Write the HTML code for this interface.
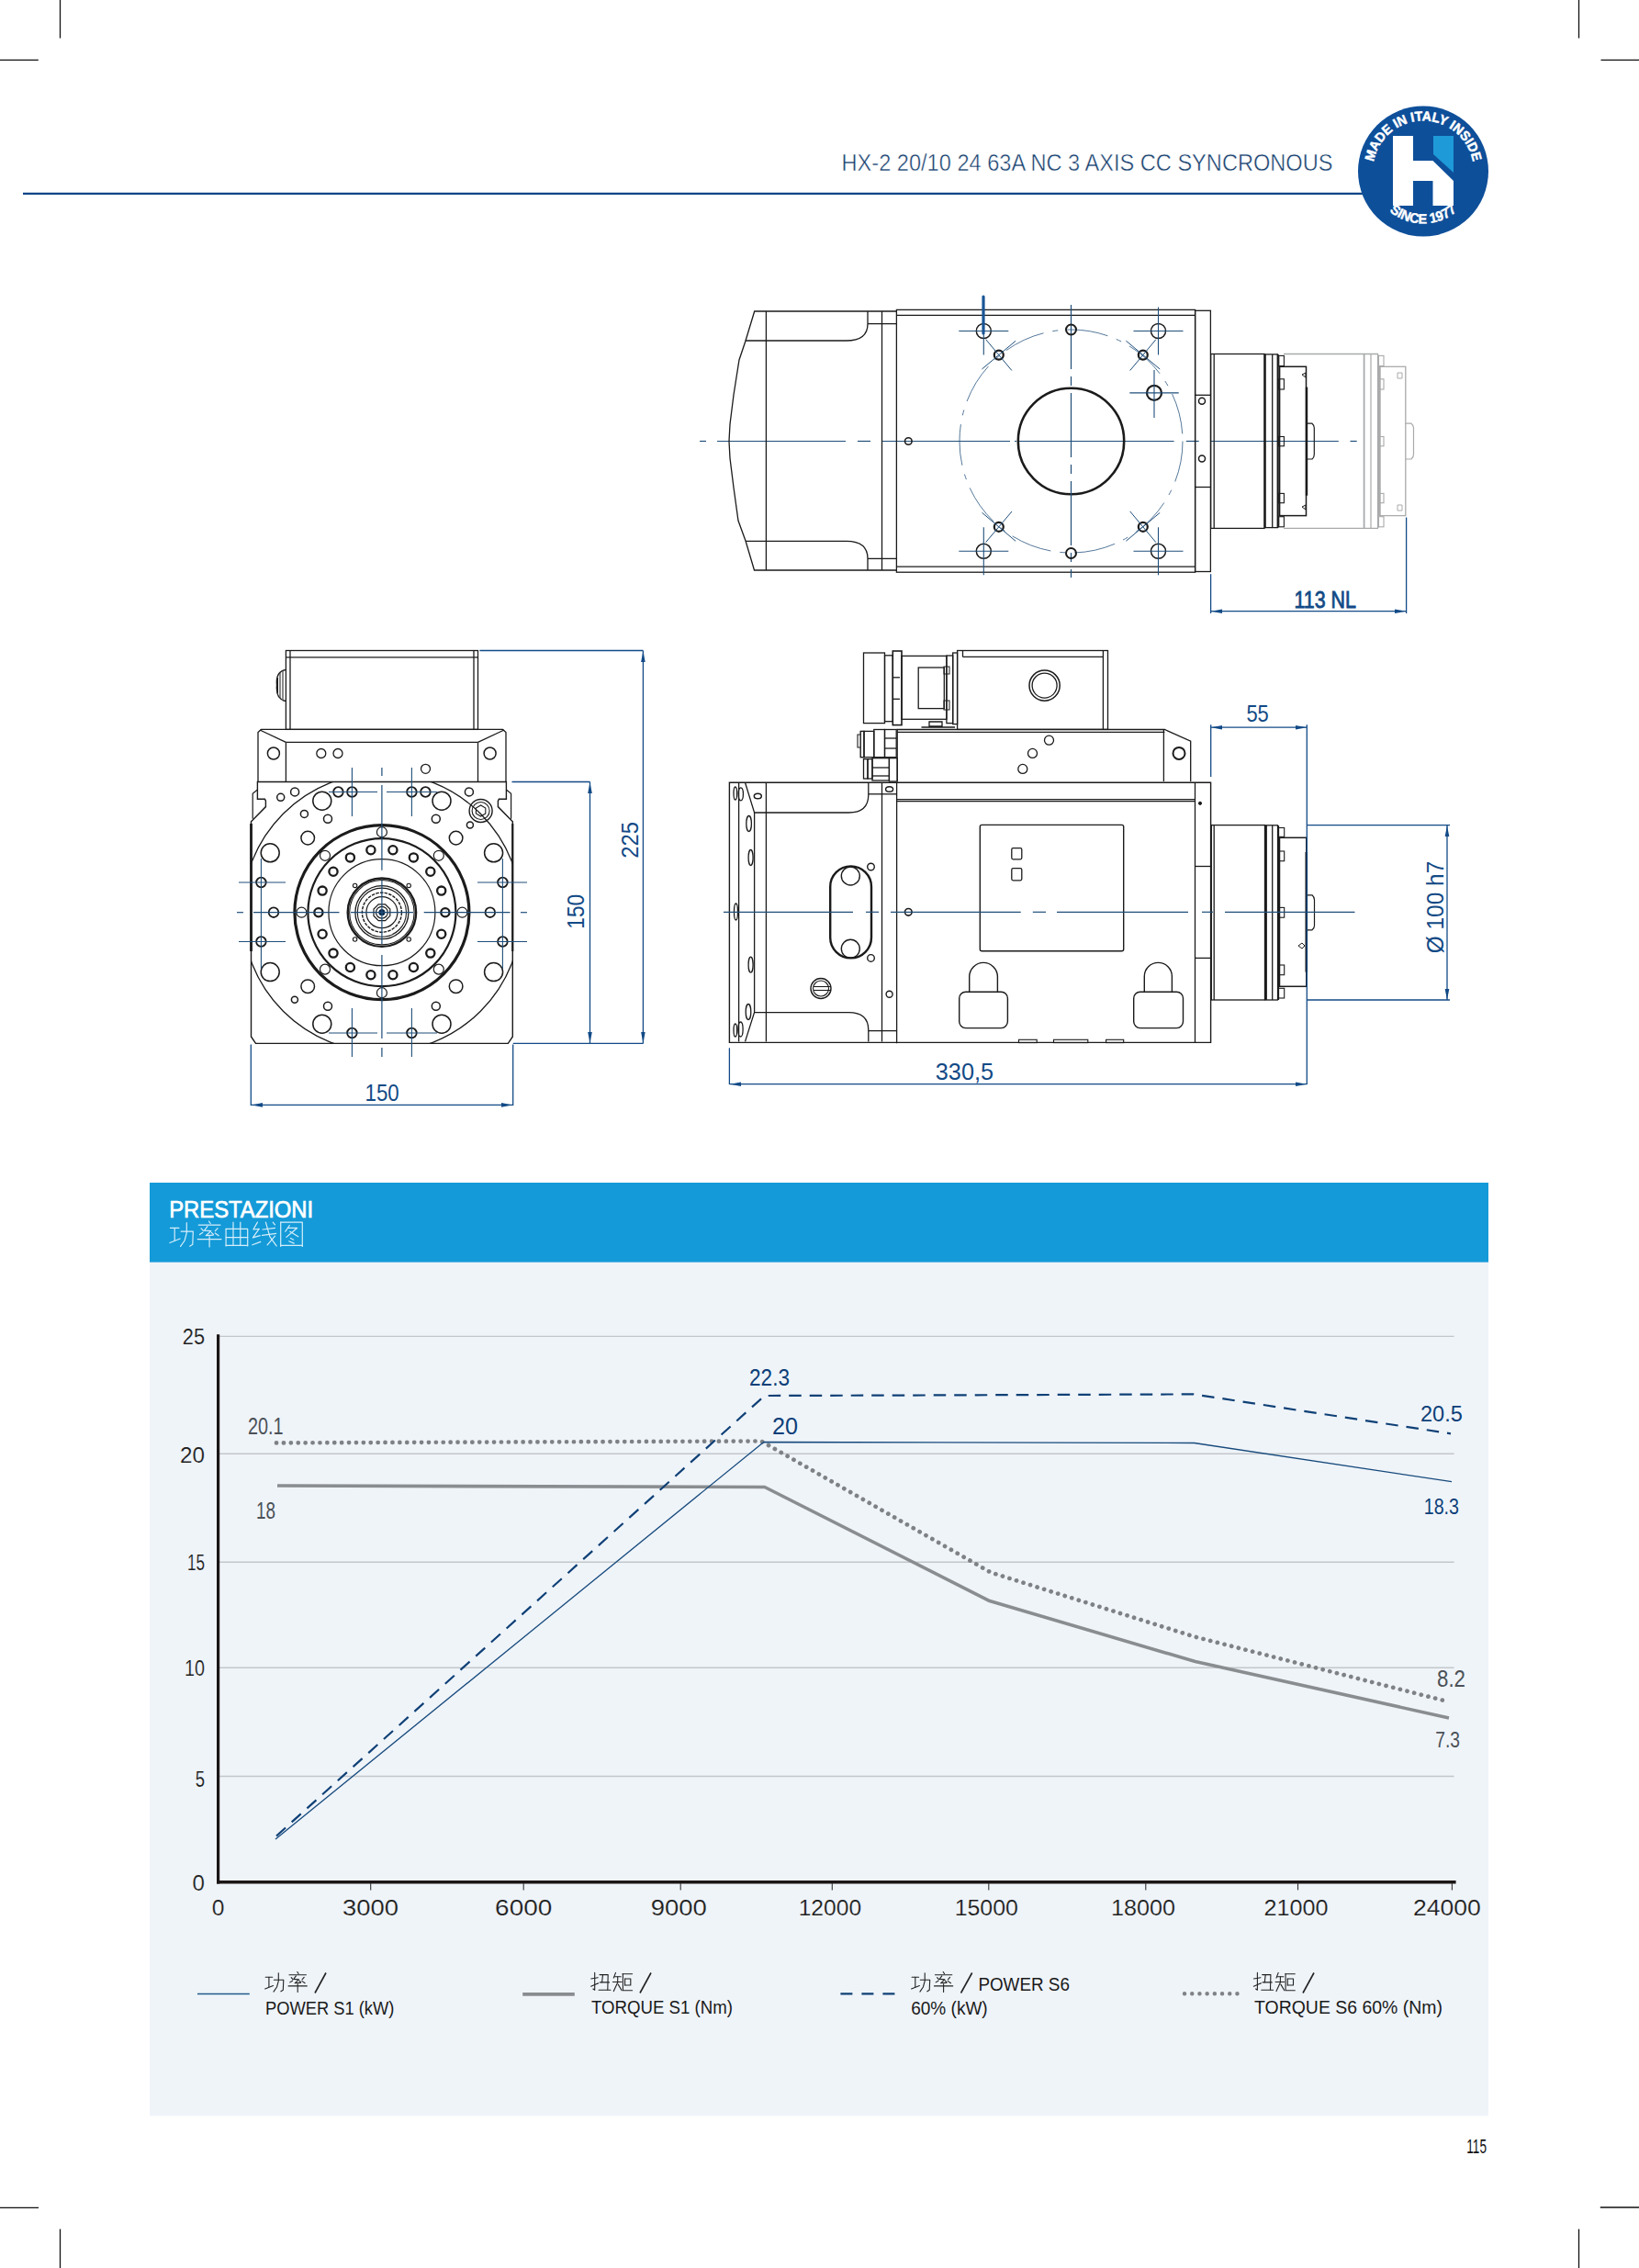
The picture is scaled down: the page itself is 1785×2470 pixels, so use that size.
<!DOCTYPE html><html><head><meta charset="utf-8"><style>html,body{margin:0;padding:0;background:#fff;}body{width:1785px;height:2470px;overflow:hidden;position:relative;}svg{position:absolute;left:0;top:0;}text{font-family:"Liberation Sans",sans-serif;}</style></head><body>
<svg width="1785" height="2470" viewBox="0 0 1785 2470">
<line x1="65.5" y1="0.0" x2="65.5" y2="41.6" stroke="#111" stroke-width="1.3" />
<line x1="0.0" y1="65.4" x2="41.8" y2="65.4" stroke="#111" stroke-width="1.3" />
<line x1="1719.5" y1="0.0" x2="1719.5" y2="41.6" stroke="#111" stroke-width="1.3" />
<line x1="1743.5" y1="65.4" x2="1785.0" y2="65.4" stroke="#111" stroke-width="1.3" />
<line x1="65.5" y1="2427.6" x2="65.5" y2="2470.0" stroke="#111" stroke-width="1.3" />
<line x1="0.0" y1="2404.3" x2="42.0" y2="2404.3" stroke="#111" stroke-width="1.3" />
<line x1="1719.5" y1="2427.6" x2="1719.5" y2="2470.0" stroke="#111" stroke-width="1.3" />
<line x1="1742.8" y1="2404.0" x2="1785.0" y2="2404.0" stroke="#111" stroke-width="1.3" />
<line x1="25.0" y1="210.8" x2="1500.0" y2="210.8" stroke="#0d4585" stroke-width="2.2" />
<text x="916.5" y="185.7" font-size="25" fill="#173f6e" text-anchor="start" font-weight="normal" textLength="535" lengthAdjust="spacingAndGlyphs" stroke="#fff" stroke-width="0.45">HX-2 20/10 24 63A NC 3 AXIS CC SYNCRONOUS</text>
<circle cx="1550" cy="186.5" r="71" fill="#0e4f9a"/>
<path d="M1517,148 H1539 V175 H1560.5 L1583,197 V224 H1560.5 V197 H1539 V224 H1517 Z" fill="#fff"/>
<path d="M1561,148 H1583 V188 L1561,168 Z" fill="#1e9ad8"/>
<defs><path id="arcTop" d="M1495.84,196.05 A55,55 0 1 1 1604.16,196.05"/>
<path id="arcBot" d="M1493,186.5 A57,57 0 0 0 1607,186.5"/></defs>
<text font-size="14.5" font-weight="bold" fill="#fff" stroke="#fff" stroke-width="0.5" text-anchor="middle"><textPath href="#arcTop" startOffset="50%" textLength="152" lengthAdjust="spacingAndGlyphs">MADE IN ITALY INSIDE</textPath></text>
<text font-size="15" font-weight="bold" fill="#fff" stroke="#fff" stroke-width="0.4" text-anchor="middle"><textPath href="#arcBot" startOffset="50%" textLength="80" lengthAdjust="spacingAndGlyphs">SINCE 1977</textPath></text>
<rect x="163" y="1288" width="1458" height="86.8" fill="#149ad8"/>
<rect x="163" y="1374.8" width="1458" height="929.5" fill="#eff4f9"/>
<text x="184.2" y="1325.6" font-size="25" fill="#ffffff" text-anchor="start" font-weight="normal" textLength="157" lengthAdjust="spacingAndGlyphs" stroke="#fff" stroke-width="0.7">PRESTAZIONI</text>
<path d="M185.4,1337.3 L194.9,1337.3" stroke="#d6eefa" stroke-width="1.2" fill="none" stroke-linecap="round" stroke-linejoin="round"/>
<path d="M190.2,1337.3 L190.2,1350.7" stroke="#d6eefa" stroke-width="1.2" fill="none" stroke-linecap="round" stroke-linejoin="round"/>
<path d="M184.9,1353.5 L196.1,1349.0" stroke="#d6eefa" stroke-width="1.2" fill="none" stroke-linecap="round" stroke-linejoin="round"/>
<path d="M197.2,1341.2 L210.3,1341.2 L209.8,1355.2 L206.7,1357.2" stroke="#d6eefa" stroke-width="1.2" fill="none" stroke-linecap="round" stroke-linejoin="round"/>
<path d="M203.3,1331.7 L203.3,1342.6 L201.1,1351.0 L196.6,1357.4" stroke="#d6eefa" stroke-width="1.2" fill="none" stroke-linecap="round" stroke-linejoin="round"/>
<path d="M227.5,1330.0 L229.2,1332.5" stroke="#d6eefa" stroke-width="1.2" fill="none" stroke-linecap="round" stroke-linejoin="round"/>
<path d="M216.3,1334.2 L239.9,1334.2" stroke="#d6eefa" stroke-width="1.2" fill="none" stroke-linecap="round" stroke-linejoin="round"/>
<path d="M225.9,1335.6 L222.5,1340.1 L229.8,1340.6 L224.2,1345.7 L232.0,1345.1" stroke="#d6eefa" stroke-width="1.2" fill="none" stroke-linecap="round" stroke-linejoin="round"/>
<path d="M230.3,1342.3 L232.6,1344.6" stroke="#d6eefa" stroke-width="1.2" fill="none" stroke-linecap="round" stroke-linejoin="round"/>
<path d="M219.1,1337.8 L221.7,1340.6" stroke="#d6eefa" stroke-width="1.2" fill="none" stroke-linecap="round" stroke-linejoin="round"/>
<path d="M217.5,1344.6 L220.8,1342.3" stroke="#d6eefa" stroke-width="1.2" fill="none" stroke-linecap="round" stroke-linejoin="round"/>
<path d="M237.1,1337.6 L234.3,1340.6" stroke="#d6eefa" stroke-width="1.2" fill="none" stroke-linecap="round" stroke-linejoin="round"/>
<path d="M234.3,1342.9 L238.2,1345.7" stroke="#d6eefa" stroke-width="1.2" fill="none" stroke-linecap="round" stroke-linejoin="round"/>
<path d="M215.2,1349.6 L241.0,1349.6" stroke="#d6eefa" stroke-width="1.2" fill="none" stroke-linecap="round" stroke-linejoin="round"/>
<path d="M228.1,1346.8 L228.1,1358.0" stroke="#d6eefa" stroke-width="1.2" fill="none" stroke-linecap="round" stroke-linejoin="round"/>
<path d="M246.1,1338.4 L246.1,1356.9" stroke="#d6eefa" stroke-width="1.2" fill="none" stroke-linecap="round" stroke-linejoin="round"/>
<path d="M246.1,1338.4 L269.7,1338.4 L269.7,1356.9" stroke="#d6eefa" stroke-width="1.2" fill="none" stroke-linecap="round" stroke-linejoin="round"/>
<path d="M246.1,1347.6 L269.7,1347.6" stroke="#d6eefa" stroke-width="1.2" fill="none" stroke-linecap="round" stroke-linejoin="round"/>
<path d="M246.1,1356.3 L269.7,1356.3" stroke="#d6eefa" stroke-width="1.2" fill="none" stroke-linecap="round" stroke-linejoin="round"/>
<path d="M254.0,1331.1 L254.0,1356.3" stroke="#d6eefa" stroke-width="1.2" fill="none" stroke-linecap="round" stroke-linejoin="round"/>
<path d="M261.8,1331.1 L261.8,1356.3" stroke="#d6eefa" stroke-width="1.2" fill="none" stroke-linecap="round" stroke-linejoin="round"/>
<path d="M280.4,1331.1 L275.9,1339.0 L282.1,1338.4" stroke="#d6eefa" stroke-width="1.2" fill="none" stroke-linecap="round" stroke-linejoin="round"/>
<path d="M282.1,1338.4 L275.4,1347.9 L283.2,1345.7" stroke="#d6eefa" stroke-width="1.2" fill="none" stroke-linecap="round" stroke-linejoin="round"/>
<path d="M274.8,1355.8 L283.8,1352.4" stroke="#d6eefa" stroke-width="1.2" fill="none" stroke-linecap="round" stroke-linejoin="round"/>
<path d="M286.0,1339.0 L299.5,1337.3" stroke="#d6eefa" stroke-width="1.2" fill="none" stroke-linecap="round" stroke-linejoin="round"/>
<path d="M285.5,1345.4 L300.6,1343.4" stroke="#d6eefa" stroke-width="1.2" fill="none" stroke-linecap="round" stroke-linejoin="round"/>
<path d="M289.4,1331.1 L293.9,1346.8 L301.1,1356.9" stroke="#d6eefa" stroke-width="1.2" fill="none" stroke-linecap="round" stroke-linejoin="round"/>
<path d="M297.2,1331.1 L299.5,1333.9" stroke="#d6eefa" stroke-width="1.2" fill="none" stroke-linecap="round" stroke-linejoin="round"/>
<path d="M299.5,1346.2 L291.1,1355.8" stroke="#d6eefa" stroke-width="1.2" fill="none" stroke-linecap="round" stroke-linejoin="round"/>
<path d="M305.7,1331.1 L305.7,1357.4" stroke="#d6eefa" stroke-width="1.2" fill="none" stroke-linecap="round" stroke-linejoin="round"/>
<path d="M305.7,1331.1 L329.3,1331.1 L329.3,1357.4" stroke="#d6eefa" stroke-width="1.2" fill="none" stroke-linecap="round" stroke-linejoin="round"/>
<path d="M305.7,1356.3 L329.3,1356.3" stroke="#d6eefa" stroke-width="1.2" fill="none" stroke-linecap="round" stroke-linejoin="round"/>
<path d="M315.3,1334.5 L310.8,1341.2" stroke="#d6eefa" stroke-width="1.2" fill="none" stroke-linecap="round" stroke-linejoin="round"/>
<path d="M313.6,1337.3 L323.7,1337.3 L311.9,1347.4" stroke="#d6eefa" stroke-width="1.2" fill="none" stroke-linecap="round" stroke-linejoin="round"/>
<path d="M315.8,1341.2 L324.8,1346.8" stroke="#d6eefa" stroke-width="1.2" fill="none" stroke-linecap="round" stroke-linejoin="round"/>
<path d="M316.4,1348.5 L319.7,1350.2" stroke="#d6eefa" stroke-width="1.2" fill="none" stroke-linecap="round" stroke-linejoin="round"/>
<path d="M314.7,1351.8 L320.3,1354.1" stroke="#d6eefa" stroke-width="1.2" fill="none" stroke-linecap="round" stroke-linejoin="round"/>
<line x1="239.0" y1="1455.4" x2="1583.6" y2="1455.4" stroke="#c3c7cb" stroke-width="1.4" />
<line x1="239.0" y1="1583.3" x2="1583.6" y2="1583.3" stroke="#c3c7cb" stroke-width="1.4" />
<line x1="239.0" y1="1701.3" x2="1583.6" y2="1701.3" stroke="#c3c7cb" stroke-width="1.4" />
<line x1="239.0" y1="1816.3" x2="1583.6" y2="1816.3" stroke="#c3c7cb" stroke-width="1.4" />
<line x1="239.0" y1="1934.5" x2="1583.6" y2="1934.5" stroke="#c3c7cb" stroke-width="1.4" />
<line x1="237.6" y1="1453.3" x2="237.6" y2="2051.4" stroke="#1c1616" stroke-width="3.2" />
<line x1="236.0" y1="2049.7" x2="1585.6" y2="2049.7" stroke="#1c1616" stroke-width="3.4" />
<line x1="403.7" y1="2051.0" x2="403.7" y2="2058.4" stroke="#333" stroke-width="1.1" />
<line x1="570.2" y1="2051.0" x2="570.2" y2="2058.4" stroke="#333" stroke-width="1.1" />
<line x1="741.2" y1="2051.0" x2="741.2" y2="2058.4" stroke="#333" stroke-width="1.1" />
<line x1="906.3" y1="2051.0" x2="906.3" y2="2058.4" stroke="#333" stroke-width="1.1" />
<line x1="1076.8" y1="2051.0" x2="1076.8" y2="2058.4" stroke="#333" stroke-width="1.1" />
<line x1="1247.8" y1="2051.0" x2="1247.8" y2="2058.4" stroke="#333" stroke-width="1.1" />
<line x1="1413.5" y1="2051.0" x2="1413.5" y2="2058.4" stroke="#333" stroke-width="1.1" />
<line x1="1581.4" y1="2051.0" x2="1581.4" y2="2058.4" stroke="#333" stroke-width="1.1" />
<text x="223.0" y="1464.3" font-size="23" fill="#1e1e1e" text-anchor="end" font-weight="normal" textLength="24.2" lengthAdjust="spacingAndGlyphs" stroke="#eff4f9" stroke-width="0.15">25</text>
<text x="223.0" y="1592.9" font-size="23" fill="#1e1e1e" text-anchor="end" font-weight="normal" textLength="27" lengthAdjust="spacingAndGlyphs" stroke="#eff4f9" stroke-width="0.15">20</text>
<text x="223.0" y="1709.7" font-size="23" fill="#1e1e1e" text-anchor="end" font-weight="normal" textLength="19" lengthAdjust="spacingAndGlyphs" stroke="#eff4f9" stroke-width="0.15">15</text>
<text x="223.0" y="1825.1" font-size="23" fill="#1e1e1e" text-anchor="end" font-weight="normal" textLength="22" lengthAdjust="spacingAndGlyphs" stroke="#eff4f9" stroke-width="0.15">10</text>
<text x="223.0" y="1946.0" font-size="23" fill="#1e1e1e" text-anchor="end" font-weight="normal" textLength="10.3" lengthAdjust="spacingAndGlyphs" stroke="#eff4f9" stroke-width="0.15">5</text>
<text x="223.0" y="2058.7" font-size="23" fill="#1e1e1e" text-anchor="end" font-weight="normal" textLength="13.4" lengthAdjust="spacingAndGlyphs" stroke="#eff4f9" stroke-width="0.15">0</text>
<text x="237.6" y="2086.3" font-size="23" fill="#1e1e1e" text-anchor="middle" font-weight="normal" textLength="13.7" lengthAdjust="spacingAndGlyphs" stroke="#eff4f9" stroke-width="0.15">0</text>
<text x="403.5" y="2086.3" font-size="23" fill="#1e1e1e" text-anchor="middle" font-weight="normal" textLength="61" lengthAdjust="spacingAndGlyphs" stroke="#eff4f9" stroke-width="0.15">3000</text>
<text x="570.2" y="2086.3" font-size="23" fill="#1e1e1e" text-anchor="middle" font-weight="normal" textLength="62.2" lengthAdjust="spacingAndGlyphs" stroke="#eff4f9" stroke-width="0.15">6000</text>
<text x="739.2" y="2086.3" font-size="23" fill="#1e1e1e" text-anchor="middle" font-weight="normal" textLength="61.1" lengthAdjust="spacingAndGlyphs" stroke="#eff4f9" stroke-width="0.15">9000</text>
<text x="903.9" y="2086.3" font-size="23" fill="#1e1e1e" text-anchor="middle" font-weight="normal" textLength="68.4" lengthAdjust="spacingAndGlyphs" stroke="#eff4f9" stroke-width="0.15">12000</text>
<text x="1074.3" y="2086.3" font-size="23" fill="#1e1e1e" text-anchor="middle" font-weight="normal" textLength="69.2" lengthAdjust="spacingAndGlyphs" stroke="#eff4f9" stroke-width="0.15">15000</text>
<text x="1245.0" y="2086.3" font-size="23" fill="#1e1e1e" text-anchor="middle" font-weight="normal" textLength="70" lengthAdjust="spacingAndGlyphs" stroke="#eff4f9" stroke-width="0.15">18000</text>
<text x="1411.4" y="2086.3" font-size="23" fill="#1e1e1e" text-anchor="middle" font-weight="normal" textLength="70" lengthAdjust="spacingAndGlyphs" stroke="#eff4f9" stroke-width="0.15">21000</text>
<text x="1575.9" y="2086.3" font-size="23" fill="#1e1e1e" text-anchor="middle" font-weight="normal" textLength="73.8" lengthAdjust="spacingAndGlyphs" stroke="#eff4f9" stroke-width="0.15">24000</text>
<path d="M302.0,1618.0 L832.8,1619.5 L1077.8,1743.6 L1301.7,1809.5 L1578.0,1871.0" stroke="#8a8d90" stroke-width="3.6" fill="none" stroke-linejoin="round" />
<path d="M301.0,1571.4 L829.0,1569.5 L1079.0,1712.5 L1301.0,1782.5 L1578.0,1853.4" stroke="#7f8285" stroke-width="4.7" fill="none" stroke-linejoin="round" stroke-dasharray="0.1 7.8" stroke-linecap="round"/>
<path d="M300.0,2003.0 L831.8,1570.5 L1300.6,1571.5 L1581.0,1613.6" stroke="#174a7c" stroke-width="1.3" fill="none" stroke-linejoin="round" />
<path d="M301.0,1999.5 L832.7,1520.0 L1006.0,1519.5 L1300.0,1518.4 L1580.0,1561.3" stroke="#0f4076" stroke-width="2.2" fill="none" stroke-linejoin="round" stroke-dasharray="13.5 9"/>
<text x="816.0" y="1509.0" font-size="25" fill="#0c3f78" text-anchor="start" font-weight="normal" textLength="44" lengthAdjust="spacingAndGlyphs" >22.3</text>
<text x="841.0" y="1561.5" font-size="25" fill="#0c3f78" text-anchor="start" font-weight="normal" textLength="28" lengthAdjust="spacingAndGlyphs" >20</text>
<text x="270.0" y="1561.8" font-size="25" fill="#4b5157" text-anchor="start" font-weight="normal" textLength="38.6" lengthAdjust="spacingAndGlyphs" >20.1</text>
<text x="279.0" y="1654.0" font-size="25" fill="#4b5157" text-anchor="start" font-weight="normal" textLength="21" lengthAdjust="spacingAndGlyphs" >18</text>
<text x="1547.0" y="1547.7" font-size="23" fill="#0c3f78" text-anchor="start" font-weight="normal" textLength="45.8" lengthAdjust="spacingAndGlyphs" >20.5</text>
<text x="1550.7" y="1649.0" font-size="23" fill="#0c3f78" text-anchor="start" font-weight="normal" textLength="38.3" lengthAdjust="spacingAndGlyphs" >18.3</text>
<text x="1565.0" y="1836.7" font-size="25" fill="#4b5157" text-anchor="start" font-weight="normal" textLength="31" lengthAdjust="spacingAndGlyphs" >8.2</text>
<text x="1563.2" y="1902.5" font-size="23" fill="#4b5157" text-anchor="start" font-weight="normal" textLength="26.8" lengthAdjust="spacingAndGlyphs" >7.3</text>
<line x1="215.0" y1="2171.4" x2="271.8" y2="2171.4" stroke="#1f5a8c" stroke-width="1.5" />
<path d="M289.2,2153.2 L296.7,2153.2" stroke="#222" stroke-width="1.1" fill="none" stroke-linecap="round" stroke-linejoin="round"/>
<path d="M292.9,2153.2 L292.9,2163.8" stroke="#222" stroke-width="1.1" fill="none" stroke-linecap="round" stroke-linejoin="round"/>
<path d="M288.7,2166.0 L297.5,2162.5" stroke="#222" stroke-width="1.1" fill="none" stroke-linecap="round" stroke-linejoin="round"/>
<path d="M298.4,2156.3 L308.8,2156.3 L308.3,2167.3 L305.9,2168.8" stroke="#222" stroke-width="1.1" fill="none" stroke-linecap="round" stroke-linejoin="round"/>
<path d="M303.3,2148.8 L303.3,2157.4 L301.5,2164.0 L298.0,2169.1" stroke="#222" stroke-width="1.1" fill="none" stroke-linecap="round" stroke-linejoin="round"/>
<path d="M323.8,2147.5 L325.1,2149.5" stroke="#222" stroke-width="1.1" fill="none" stroke-linecap="round" stroke-linejoin="round"/>
<path d="M315.0,2150.8 L333.4,2150.8" stroke="#222" stroke-width="1.1" fill="none" stroke-linecap="round" stroke-linejoin="round"/>
<path d="M322.4,2151.9 L319.8,2155.4 L325.5,2155.9 L321.1,2159.8 L327.3,2159.4" stroke="#222" stroke-width="1.1" fill="none" stroke-linecap="round" stroke-linejoin="round"/>
<path d="M326.0,2157.2 L327.7,2158.9" stroke="#222" stroke-width="1.1" fill="none" stroke-linecap="round" stroke-linejoin="round"/>
<path d="M317.2,2153.7 L319.1,2155.9" stroke="#222" stroke-width="1.1" fill="none" stroke-linecap="round" stroke-linejoin="round"/>
<path d="M315.8,2158.9 L318.5,2157.2" stroke="#222" stroke-width="1.1" fill="none" stroke-linecap="round" stroke-linejoin="round"/>
<path d="M331.2,2153.4 L329.0,2155.9" stroke="#222" stroke-width="1.1" fill="none" stroke-linecap="round" stroke-linejoin="round"/>
<path d="M329.0,2157.6 L332.1,2159.8" stroke="#222" stroke-width="1.1" fill="none" stroke-linecap="round" stroke-linejoin="round"/>
<path d="M314.1,2162.9 L334.3,2162.9" stroke="#222" stroke-width="1.1" fill="none" stroke-linecap="round" stroke-linejoin="round"/>
<path d="M324.2,2160.7 L324.2,2169.5" stroke="#222" stroke-width="1.1" fill="none" stroke-linecap="round" stroke-linejoin="round"/>
<line x1="355.0" y1="2148.5" x2="343.0" y2="2170.5" stroke="#222" stroke-width="1.6" />
<text x="289.0" y="2193.7" font-size="21" fill="#1a1a1a" text-anchor="start" font-weight="normal" textLength="140.4" lengthAdjust="spacingAndGlyphs" >POWER S1 (kW)</text>
<line x1="569.2" y1="2171.9" x2="625.8" y2="2171.9" stroke="#8a8d90" stroke-width="3.6" />
<path d="M643.7,2155.0 L651.2,2153.7" stroke="#222" stroke-width="1.1" fill="none" stroke-linecap="round" stroke-linejoin="round"/>
<path d="M647.7,2148.4 L647.7,2167.3 L645.9,2166.0" stroke="#222" stroke-width="1.1" fill="none" stroke-linecap="round" stroke-linejoin="round"/>
<path d="M643.7,2163.3 L651.7,2159.8" stroke="#222" stroke-width="1.1" fill="none" stroke-linecap="round" stroke-linejoin="round"/>
<path d="M653.0,2150.6 L662.2,2150.6 L661.8,2166.9" stroke="#222" stroke-width="1.1" fill="none" stroke-linecap="round" stroke-linejoin="round"/>
<path d="M656.5,2150.6 L655.6,2158.9" stroke="#222" stroke-width="1.1" fill="none" stroke-linecap="round" stroke-linejoin="round"/>
<path d="M653.4,2158.9 L663.5,2158.9" stroke="#222" stroke-width="1.1" fill="none" stroke-linecap="round" stroke-linejoin="round"/>
<path d="M652.1,2167.3 L664.9,2167.3" stroke="#222" stroke-width="1.1" fill="none" stroke-linecap="round" stroke-linejoin="round"/>
<path d="M670.5,2148.4 L668.3,2154.1" stroke="#222" stroke-width="1.1" fill="none" stroke-linecap="round" stroke-linejoin="round"/>
<path d="M669.2,2152.8 L676.2,2152.8" stroke="#222" stroke-width="1.1" fill="none" stroke-linecap="round" stroke-linejoin="round"/>
<path d="M667.4,2158.5 L677.1,2158.5" stroke="#222" stroke-width="1.1" fill="none" stroke-linecap="round" stroke-linejoin="round"/>
<path d="M672.7,2152.8 L672.7,2158.9 L668.3,2168.6" stroke="#222" stroke-width="1.1" fill="none" stroke-linecap="round" stroke-linejoin="round"/>
<path d="M673.2,2161.1 L677.1,2167.7" stroke="#222" stroke-width="1.1" fill="none" stroke-linecap="round" stroke-linejoin="round"/>
<path d="M678.0,2149.7 L688.6,2149.7" stroke="#222" stroke-width="1.1" fill="none" stroke-linecap="round" stroke-linejoin="round"/>
<path d="M678.4,2149.7 L678.4,2167.7 L688.6,2167.7" stroke="#222" stroke-width="1.1" fill="none" stroke-linecap="round" stroke-linejoin="round"/>
<path d="M680.6,2155.0 L686.8,2155.0 L686.8,2162.0 L680.6,2162.0" stroke="#222" stroke-width="1.1" fill="none" stroke-linecap="round" stroke-linejoin="round"/>
<path d="M680.6,2155.0 L680.6,2162.0" stroke="#222" stroke-width="1.1" fill="none" stroke-linecap="round" stroke-linejoin="round"/>
<line x1="709.0" y1="2148.5" x2="697.0" y2="2170.5" stroke="#222" stroke-width="1.6" />
<text x="644.0" y="2193.1" font-size="21" fill="#1a1a1a" text-anchor="start" font-weight="normal" textLength="154" lengthAdjust="spacingAndGlyphs" >TORQUE S1 (Nm)</text>
<line x1="915.4" y1="2171.4" x2="974.7" y2="2171.4" stroke="#0f4076" stroke-width="2.4" stroke-dasharray="13 10"/>
<path d="M993.1,2153.2 L1000.6,2153.2" stroke="#222" stroke-width="1.1" fill="none" stroke-linecap="round" stroke-linejoin="round"/>
<path d="M996.8,2153.2 L996.8,2163.8" stroke="#222" stroke-width="1.1" fill="none" stroke-linecap="round" stroke-linejoin="round"/>
<path d="M992.6,2166.0 L1001.4,2162.5" stroke="#222" stroke-width="1.1" fill="none" stroke-linecap="round" stroke-linejoin="round"/>
<path d="M1002.3,2156.3 L1012.7,2156.3 L1012.2,2167.3 L1009.8,2168.8" stroke="#222" stroke-width="1.1" fill="none" stroke-linecap="round" stroke-linejoin="round"/>
<path d="M1007.2,2148.8 L1007.2,2157.4 L1005.4,2164.0 L1001.9,2169.1" stroke="#222" stroke-width="1.1" fill="none" stroke-linecap="round" stroke-linejoin="round"/>
<path d="M1027.2,2147.5 L1028.5,2149.5" stroke="#222" stroke-width="1.1" fill="none" stroke-linecap="round" stroke-linejoin="round"/>
<path d="M1018.4,2150.8 L1036.8,2150.8" stroke="#222" stroke-width="1.1" fill="none" stroke-linecap="round" stroke-linejoin="round"/>
<path d="M1025.8,2151.9 L1023.2,2155.4 L1028.9,2155.9 L1024.5,2159.8 L1030.7,2159.4" stroke="#222" stroke-width="1.1" fill="none" stroke-linecap="round" stroke-linejoin="round"/>
<path d="M1029.4,2157.2 L1031.1,2158.9" stroke="#222" stroke-width="1.1" fill="none" stroke-linecap="round" stroke-linejoin="round"/>
<path d="M1020.6,2153.7 L1022.5,2155.9" stroke="#222" stroke-width="1.1" fill="none" stroke-linecap="round" stroke-linejoin="round"/>
<path d="M1019.2,2158.9 L1021.9,2157.2" stroke="#222" stroke-width="1.1" fill="none" stroke-linecap="round" stroke-linejoin="round"/>
<path d="M1034.6,2153.4 L1032.4,2155.9" stroke="#222" stroke-width="1.1" fill="none" stroke-linecap="round" stroke-linejoin="round"/>
<path d="M1032.4,2157.6 L1035.5,2159.8" stroke="#222" stroke-width="1.1" fill="none" stroke-linecap="round" stroke-linejoin="round"/>
<path d="M1017.5,2162.9 L1037.7,2162.9" stroke="#222" stroke-width="1.1" fill="none" stroke-linecap="round" stroke-linejoin="round"/>
<path d="M1027.6,2160.7 L1027.6,2169.5" stroke="#222" stroke-width="1.1" fill="none" stroke-linecap="round" stroke-linejoin="round"/>
<line x1="1058.7" y1="2148.5" x2="1046.5" y2="2170.5" stroke="#222" stroke-width="1.6" />
<text x="1065.4" y="2167.8" font-size="21" fill="#1a1a1a" text-anchor="start" font-weight="normal" textLength="99.5" lengthAdjust="spacingAndGlyphs" >POWER S6</text>
<text x="992.2" y="2193.7" font-size="21" fill="#1a1a1a" text-anchor="start" font-weight="normal" textLength="83.5" lengthAdjust="spacingAndGlyphs" >60% (kW)</text>
<path d="M1290.0,2171.2 L1349.3,2171.2" stroke="#808386" stroke-width="4.4" fill="none" stroke-linejoin="round" stroke-dasharray="0.1 8.1" stroke-linecap="round"/>
<path d="M1365.4,2155.0 L1372.9,2153.7" stroke="#222" stroke-width="1.1" fill="none" stroke-linecap="round" stroke-linejoin="round"/>
<path d="M1369.4,2148.4 L1369.4,2167.3 L1367.6,2166.0" stroke="#222" stroke-width="1.1" fill="none" stroke-linecap="round" stroke-linejoin="round"/>
<path d="M1365.4,2163.3 L1373.4,2159.8" stroke="#222" stroke-width="1.1" fill="none" stroke-linecap="round" stroke-linejoin="round"/>
<path d="M1374.7,2150.6 L1383.9,2150.6 L1383.5,2166.9" stroke="#222" stroke-width="1.1" fill="none" stroke-linecap="round" stroke-linejoin="round"/>
<path d="M1378.2,2150.6 L1377.3,2158.9" stroke="#222" stroke-width="1.1" fill="none" stroke-linecap="round" stroke-linejoin="round"/>
<path d="M1375.1,2158.9 L1385.2,2158.9" stroke="#222" stroke-width="1.1" fill="none" stroke-linecap="round" stroke-linejoin="round"/>
<path d="M1373.8,2167.3 L1386.6,2167.3" stroke="#222" stroke-width="1.1" fill="none" stroke-linecap="round" stroke-linejoin="round"/>
<path d="M1392.2,2148.4 L1390.0,2154.1" stroke="#222" stroke-width="1.1" fill="none" stroke-linecap="round" stroke-linejoin="round"/>
<path d="M1390.9,2152.8 L1397.9,2152.8" stroke="#222" stroke-width="1.1" fill="none" stroke-linecap="round" stroke-linejoin="round"/>
<path d="M1389.1,2158.5 L1398.8,2158.5" stroke="#222" stroke-width="1.1" fill="none" stroke-linecap="round" stroke-linejoin="round"/>
<path d="M1394.4,2152.8 L1394.4,2158.9 L1390.0,2168.6" stroke="#222" stroke-width="1.1" fill="none" stroke-linecap="round" stroke-linejoin="round"/>
<path d="M1394.9,2161.1 L1398.8,2167.7" stroke="#222" stroke-width="1.1" fill="none" stroke-linecap="round" stroke-linejoin="round"/>
<path d="M1399.7,2149.7 L1410.3,2149.7" stroke="#222" stroke-width="1.1" fill="none" stroke-linecap="round" stroke-linejoin="round"/>
<path d="M1400.1,2149.7 L1400.1,2167.7 L1410.3,2167.7" stroke="#222" stroke-width="1.1" fill="none" stroke-linecap="round" stroke-linejoin="round"/>
<path d="M1402.3,2155.0 L1408.5,2155.0 L1408.5,2162.0 L1402.3,2162.0" stroke="#222" stroke-width="1.1" fill="none" stroke-linecap="round" stroke-linejoin="round"/>
<path d="M1402.3,2155.0 L1402.3,2162.0" stroke="#222" stroke-width="1.1" fill="none" stroke-linecap="round" stroke-linejoin="round"/>
<line x1="1431.0" y1="2148.5" x2="1419.0" y2="2170.5" stroke="#222" stroke-width="1.6" />
<text x="1366.0" y="2193.1" font-size="21" fill="#1a1a1a" text-anchor="start" font-weight="normal" textLength="205" lengthAdjust="spacingAndGlyphs" >TORQUE S6 60% (Nm)</text>
<text x="1597.3" y="2345.3" font-size="22" fill="#111" text-anchor="start" font-weight="normal" textLength="21.7" lengthAdjust="spacingAndGlyphs" >115</text>
<line x1="762.0" y1="480.5" x2="769.0" y2="480.5" stroke="#1f4e7a" stroke-width="1.2" />
<line x1="781.0" y1="480.5" x2="921.0" y2="480.5" stroke="#1f4e7a" stroke-width="1.2" />
<line x1="934.0" y1="480.5" x2="948.0" y2="480.5" stroke="#1f4e7a" stroke-width="1.2" />
<line x1="960.0" y1="480.5" x2="1100.0" y2="480.5" stroke="#1f4e7a" stroke-width="1.2" />
<line x1="1105.0" y1="480.5" x2="1107.0" y2="480.5" stroke="#1f4e7a" stroke-width="1.2" />
<line x1="1109.0" y1="480.5" x2="1278.6" y2="480.5" stroke="#1f4e7a" stroke-width="1.2" />
<line x1="1291.8" y1="480.5" x2="1305.7" y2="480.5" stroke="#1f4e7a" stroke-width="1.2" />
<line x1="1318.9" y1="480.5" x2="1457.8" y2="480.5" stroke="#1f4e7a" stroke-width="1.2" />
<line x1="1470.5" y1="480.5" x2="1477.7" y2="480.5" stroke="#1f4e7a" stroke-width="1.2" />
<path d="M976.4,339 H821.7 L811.8,371.8 L805,392 L799,430 L795,462 L794,480.5 L795,499 L799,531 L804,567 L812,589 L821.5,621 H976.4" stroke="#1b1b1b" stroke-width="1.3" fill="none" />
<line x1="834.4" y1="339.0" x2="834.4" y2="621.0" stroke="#1b1b1b" stroke-width="1.3" />
<path d="M811.8,371 H921.6 Q945,371 945,352.7 V339" stroke="#1b1b1b" stroke-width="1.3" fill="none" />
<path d="M812,589.4 H921.8 Q945,589.4 945,608.4 V621" stroke="#1b1b1b" stroke-width="1.3" fill="none" />
<line x1="945.0" y1="352.6" x2="976.4" y2="352.6" stroke="#1b1b1b" stroke-width="1.3" />
<line x1="945.0" y1="608.4" x2="976.4" y2="608.4" stroke="#1b1b1b" stroke-width="1.3" />
<line x1="960.5" y1="339.0" x2="960.5" y2="621.0" stroke="#1b1b1b" stroke-width="1.3" />
<rect x="976.4" y="337.4" width="325.2" height="285.8" stroke="#1b1b1b" stroke-width="1.3" fill="none" />
<line x1="976.4" y1="343.4" x2="1301.6" y2="343.4" stroke="#1b1b1b" stroke-width="1.3" />
<line x1="976.4" y1="617.2" x2="1301.6" y2="617.2" stroke="#1b1b1b" stroke-width="1.3" />
<rect x="1301.6" y="338.3" width="16.8" height="284.2" stroke="#1b1b1b" stroke-width="1.3" fill="none" />
<line x1="1301.6" y1="430.3" x2="1318.4" y2="430.3" stroke="#1b1b1b" stroke-width="1.3" />
<line x1="1301.6" y1="530.5" x2="1318.4" y2="530.5" stroke="#1b1b1b" stroke-width="1.3" />
<circle cx="1309.0" cy="436.7" r="3.5" stroke="#1b1b1b" stroke-width="1.5" fill="none" />
<circle cx="1309.0" cy="499.6" r="3.5" stroke="#1b1b1b" stroke-width="1.5" fill="none" />
<circle cx="1166.5" cy="480.5" r="121.5" stroke="#1f4e7a" stroke-width="0.9" fill="none" stroke-dasharray="45 10 6 10" opacity="0.85"/>
<circle cx="1166.5" cy="480.5" r="57.7" stroke="#1b1b1b" stroke-width="2.6" fill="none" />
<line x1="1166.5" y1="332.0" x2="1166.5" y2="629.0" stroke="#1f4e7a" stroke-width="1.2" stroke-dasharray="70 8 10 8"/>
<circle cx="989.3" cy="480.5" r="3.8" stroke="#1b1b1b" stroke-width="1.6" fill="none" />
<circle cx="1071.3" cy="360.5" r="8.0" stroke="#1b1b1b" stroke-width="1.5" fill="none" />
<line x1="1044.3" y1="360.5" x2="1098.3" y2="360.5" stroke="#1f4e7a" stroke-width="1.1" />
<line x1="1071.3" y1="334.5" x2="1071.3" y2="386.5" stroke="#1f4e7a" stroke-width="1.1" />
<circle cx="1261.5" cy="360.5" r="8.0" stroke="#1b1b1b" stroke-width="1.5" fill="none" />
<line x1="1234.5" y1="360.5" x2="1288.5" y2="360.5" stroke="#1f4e7a" stroke-width="1.1" />
<line x1="1261.5" y1="334.5" x2="1261.5" y2="386.5" stroke="#1f4e7a" stroke-width="1.1" />
<circle cx="1071.3" cy="600.3" r="8.0" stroke="#1b1b1b" stroke-width="1.5" fill="none" />
<line x1="1044.3" y1="600.3" x2="1098.3" y2="600.3" stroke="#1f4e7a" stroke-width="1.1" />
<line x1="1071.3" y1="574.3" x2="1071.3" y2="626.3" stroke="#1f4e7a" stroke-width="1.1" />
<circle cx="1261.5" cy="600.3" r="8.0" stroke="#1b1b1b" stroke-width="1.5" fill="none" />
<line x1="1234.5" y1="600.3" x2="1288.5" y2="600.3" stroke="#1f4e7a" stroke-width="1.1" />
<line x1="1261.5" y1="574.3" x2="1261.5" y2="626.3" stroke="#1f4e7a" stroke-width="1.1" />
<circle cx="1087.8" cy="386.6" r="5.0" stroke="#1b1b1b" stroke-width="2.2" fill="none" />
<line x1="1101.9" y1="403.5" x2="1073.7" y2="369.7" stroke="#1f4e7a" stroke-width="1.0" />
<line x1="1106.2" y1="371.2" x2="1069.4" y2="402.0" stroke="#1f4e7a" stroke-width="1.0" />
<circle cx="1244.8" cy="386.6" r="5.0" stroke="#1b1b1b" stroke-width="2.2" fill="none" />
<line x1="1230.7" y1="403.5" x2="1258.9" y2="369.7" stroke="#1f4e7a" stroke-width="1.0" />
<line x1="1263.2" y1="402.0" x2="1226.4" y2="371.2" stroke="#1f4e7a" stroke-width="1.0" />
<circle cx="1087.8" cy="573.8" r="5.0" stroke="#1b1b1b" stroke-width="2.2" fill="none" />
<line x1="1102.0" y1="557.0" x2="1073.6" y2="590.6" stroke="#1f4e7a" stroke-width="1.0" />
<line x1="1069.5" y1="558.3" x2="1106.1" y2="589.3" stroke="#1f4e7a" stroke-width="1.0" />
<circle cx="1244.8" cy="573.8" r="5.0" stroke="#1b1b1b" stroke-width="2.2" fill="none" />
<line x1="1230.7" y1="556.9" x2="1258.9" y2="590.7" stroke="#1f4e7a" stroke-width="1.0" />
<line x1="1226.4" y1="589.2" x2="1263.2" y2="558.4" stroke="#1f4e7a" stroke-width="1.0" />
<circle cx="1166.5" cy="359.0" r="5.5" stroke="#1b1b1b" stroke-width="2" fill="none" />
<circle cx="1166.5" cy="602.5" r="5.5" stroke="#1b1b1b" stroke-width="2" fill="none" />
<circle cx="1257.0" cy="427.9" r="8.0" stroke="#1b1b1b" stroke-width="2.2" fill="none" />
<line x1="1230.3" y1="427.9" x2="1283.7" y2="427.9" stroke="#1f4e7a" stroke-width="1.1" />
<line x1="1257.0" y1="403.0" x2="1257.0" y2="455.0" stroke="#1f4e7a" stroke-width="1.1" />
<line x1="1071.0" y1="323.0" x2="1071.0" y2="363.0" stroke="#1a5596" stroke-width="3.2" stroke-linecap="round"/>
<rect x="1318.7" y="385.5" width="58.3" height="189.9" stroke="#1b1b1b" stroke-width="1.3" fill="none" />
<line x1="1322.2" y1="386.0" x2="1322.2" y2="575.0" stroke="#1b1b1b" stroke-width="1.3" />
<line x1="1377.7" y1="385.9" x2="1377.7" y2="574.6" stroke="#1b1b1b" stroke-width="2.2" />
<line x1="1385.7" y1="385.9" x2="1385.7" y2="574.6" stroke="#1b1b1b" stroke-width="1.3" />
<line x1="1391.7" y1="385.9" x2="1391.7" y2="574.6" stroke="#1b1b1b" stroke-width="2.2" />
<line x1="1377.0" y1="385.9" x2="1392.0" y2="385.9" stroke="#1b1b1b" stroke-width="1.3" />
<line x1="1377.0" y1="574.6" x2="1392.0" y2="574.6" stroke="#1b1b1b" stroke-width="1.3" />
<rect x="1392.8" y="387.4" width="5.6" height="11.2" stroke="#1b1b1b" stroke-width="1.1" fill="none" />
<rect x="1392.8" y="412.8" width="5.6" height="11.2" stroke="#1b1b1b" stroke-width="1.1" fill="none" />
<rect x="1392.8" y="475.5" width="5.6" height="10.3" stroke="#1b1b1b" stroke-width="1.1" fill="none" />
<rect x="1392.8" y="537.4" width="5.6" height="10.3" stroke="#1b1b1b" stroke-width="1.1" fill="none" />
<rect x="1392.8" y="562.7" width="5.6" height="11.1" stroke="#1b1b1b" stroke-width="1.1" fill="none" />
<rect x="1393.6" y="399.3" width="28.9" height="162.3" stroke="#1b1b1b" stroke-width="1.5" fill="none" />
<line x1="1423.0" y1="421.6" x2="1423.0" y2="539.7" stroke="#1b1b1b" stroke-width="2.4" />
<path d="M1423.7,461.2 H1429 Q1431.3,463 1431.3,466 V495 Q1431.3,498 1429,500 H1423.7" stroke="#1b1b1b" stroke-width="1.2" fill="none" />
<path d="M1418,408 l4,-2 l0,5 z M1418,552 l4,-2 l0,5 z" stroke="#1b1b1b" stroke-width="1" fill="none" />
<line x1="1398.0" y1="385.5" x2="1501.0" y2="385.5" stroke="#a9aaab" stroke-width="1.3" />
<line x1="1398.0" y1="575.4" x2="1501.0" y2="575.4" stroke="#a9aaab" stroke-width="1.3" />
<line x1="1485.6" y1="385.5" x2="1485.6" y2="576.0" stroke="#a9aaab" stroke-width="1.8" />
<line x1="1493.0" y1="386.0" x2="1493.0" y2="575.0" stroke="#a9aaab" stroke-width="1.2" />
<line x1="1500.7" y1="386.0" x2="1500.7" y2="575.0" stroke="#a9aaab" stroke-width="1.6" />
<rect x="1501.5" y="387.4" width="5.5" height="11.2" stroke="#a9aaab" stroke-width="1.1" fill="none" />
<rect x="1501.5" y="412.8" width="5.5" height="11.2" stroke="#a9aaab" stroke-width="1.1" fill="none" />
<rect x="1501.5" y="475.5" width="5.5" height="10.3" stroke="#a9aaab" stroke-width="1.1" fill="none" />
<rect x="1501.5" y="537.4" width="5.5" height="10.3" stroke="#a9aaab" stroke-width="1.1" fill="none" />
<rect x="1501.5" y="562.7" width="5.5" height="11.1" stroke="#a9aaab" stroke-width="1.1" fill="none" />
<rect x="1503.0" y="399.3" width="27.8" height="162.3" stroke="#a9aaab" stroke-width="1.3" fill="none" />
<line x1="1502.0" y1="399.0" x2="1502.0" y2="562.0" stroke="#a9aaab" stroke-width="2.4" />
<path d="M1530.8,461.2 H1537 Q1539.5,463 1539.5,466 V495 Q1539.5,498 1537,500 H1530.8" stroke="#a9aaab" stroke-width="1.2" fill="none" />
<path d="M1522,406 h5 v6 h-5 z M1522,550 h5 v6 h-5 z" stroke="#a9aaab" stroke-width="1" fill="none" />
<line x1="1318.6" y1="625.2" x2="1318.6" y2="668.0" stroke="#124a86" stroke-width="1.3" />
<line x1="1531.6" y1="563.5" x2="1531.6" y2="668.0" stroke="#124a86" stroke-width="1.3" />
<line x1="1318.6" y1="665.7" x2="1531.6" y2="665.7" stroke="#124a86" stroke-width="1.3" />
<path d="M1319.0,665.7 L1331.0,663.4 L1331.0,668.0 Z" fill="#124a86"/>
<path d="M1531.0,665.7 L1519.0,668.0 L1519.0,663.4 Z" fill="#124a86"/>
<text x="1409.5" y="661.7" font-size="25" fill="#124a86" text-anchor="start" font-weight="normal" textLength="67.4" lengthAdjust="spacingAndGlyphs" stroke="#124a86" stroke-width="0.8">113 NL</text>
<rect x="311.4" y="708.5" width="209.1" height="85.9" stroke="#1b1b1b" stroke-width="1.3" fill="none" />
<line x1="311.4" y1="715.8" x2="520.5" y2="715.8" stroke="#1b1b1b" stroke-width="1.3" />
<line x1="316.0" y1="708.5" x2="316.0" y2="794.4" stroke="#1b1b1b" stroke-width="1.3" />
<line x1="516.0" y1="708.5" x2="516.0" y2="794.4" stroke="#1b1b1b" stroke-width="1.3" />
<path d="M311.4,729.3 Q300,731 301.5,746 Q300,762 311.4,763.5" stroke="#1b1b1b" stroke-width="1.3" fill="none" />
<line x1="305.0" y1="733.0" x2="305.0" y2="760.0" stroke="#1b1b1b" stroke-width="1" />
<line x1="308.0" y1="731.0" x2="308.0" y2="762.0" stroke="#1b1b1b" stroke-width="1" />
<line x1="302.5" y1="738.0" x2="302.5" y2="755.0" stroke="#1b1b1b" stroke-width="1" />
<path d="M281,851.5 V797.5 L284.5,794.4 H547.5 L551,797.5 V851.5" stroke="#1b1b1b" stroke-width="1.3" fill="none" />
<line x1="311.4" y1="808.4" x2="520.5" y2="808.4" stroke="#1b1b1b" stroke-width="1.3" />
<line x1="283.0" y1="795.0" x2="311.4" y2="808.4" stroke="#1b1b1b" stroke-width="1.3" />
<line x1="549.0" y1="795.0" x2="520.5" y2="808.4" stroke="#1b1b1b" stroke-width="1.3" />
<line x1="311.4" y1="808.4" x2="311.4" y2="851.5" stroke="#1b1b1b" stroke-width="1.3" />
<line x1="520.5" y1="808.4" x2="520.5" y2="851.5" stroke="#1b1b1b" stroke-width="1.3" />
<circle cx="297.9" cy="820.5" r="6.5" stroke="#1b1b1b" stroke-width="1.5" fill="none" />
<circle cx="533.6" cy="820.5" r="6.5" stroke="#1b1b1b" stroke-width="1.5" fill="none" />
<circle cx="349.8" cy="820.5" r="5.0" stroke="#1b1b1b" stroke-width="1.3" fill="none" />
<circle cx="368.0" cy="820.5" r="5.0" stroke="#1b1b1b" stroke-width="1.3" fill="none" />
<circle cx="463.5" cy="837.3" r="5.0" stroke="#1b1b1b" stroke-width="1.3" fill="none" />
<path d="M280.4,851.5 V870.3 H288.4 L289.4,872.2 V878.6 L273.5,894.7 V1129 L278.5,1136.4 H553.3 L558.3,1129 V894.7 L542.4,878.6 V872.2 L543.4,870.3 H551.4 V851.5 Z" stroke="#1b1b1b" stroke-width="1.4" fill="none" />
<line x1="273.5" y1="897.0" x2="273.5" y2="1036.0" stroke="#1b1b1b" stroke-width="2.8" />
<line x1="558.3" y1="897.0" x2="558.3" y2="1036.0" stroke="#1b1b1b" stroke-width="2.2" />
<path d="M280.1,860.3 L275.2,864.4 V891.7" stroke="#1b1b1b" stroke-width="1.2" fill="none" />
<path d="M551.7,860.3 L556.6,864.4 V891.7" stroke="#1b1b1b" stroke-width="1.2" fill="none" />
<clipPath id="fvclip"><rect x="273.5" y="851.5" width="284.8" height="284.9"/></clipPath>
<circle cx="415.9" cy="993.7" r="152.0" stroke="#1b1b1b" stroke-width="1.3" fill="none" clip-path="url(#fvclip)"/>
<circle cx="415.9" cy="993.7" r="95.0" stroke="#1b1b1b" stroke-width="3.2" fill="none" />
<circle cx="415.9" cy="993.7" r="80.5" stroke="#1b1b1b" stroke-width="2.2" fill="none" />
<circle cx="415.9" cy="993.7" r="58.0" stroke="#1b1b1b" stroke-width="1.2" fill="none" />
<circle cx="415.9" cy="993.7" r="37.2" stroke="#1b1b1b" stroke-width="2.4" fill="none" />
<circle cx="415.9" cy="993.7" r="35.2" stroke="#1b1b1b" stroke-width="1.1" fill="none" />
<circle cx="415.9" cy="993.7" r="29.0" stroke="#1b1b1b" stroke-width="1.3" fill="none" />
<circle cx="415.9" cy="993.7" r="26.6" stroke="#1b1b1b" stroke-width="1.1" fill="none" />
<circle cx="415.9" cy="993.7" r="21.5" stroke="#1b1b1b" stroke-width="1.4" fill="none" stroke-dasharray="3.5 1.2"/>
<circle cx="415.9" cy="993.7" r="17.0" stroke="#1b1b1b" stroke-width="1.2" fill="none" />
<polygon points="424.8,997.4 419.6,1002.6 412.2,1002.6 407.0,997.4 407.0,990.0 412.2,984.8 419.6,984.8 424.8,990.0" fill="none" stroke="#1b1b1b" stroke-width="1.2"/>
<circle cx="415.9" cy="993.7" r="6.4" stroke="#1b1b1b" stroke-width="1.2" fill="none" />
<circle cx="415.9" cy="993.7" r="3.2" stroke="#0e2a4a" stroke-width="1" fill="#0e2a4a" />
<circle cx="484.9" cy="993.7" r="4.6" stroke="#1b1b1b" stroke-width="2.3" fill="none" />
<circle cx="480.7" cy="970.1" r="4.6" stroke="#1b1b1b" stroke-width="2.3" fill="none" />
<circle cx="468.8" cy="949.3" r="4.6" stroke="#1b1b1b" stroke-width="2.3" fill="none" />
<circle cx="450.4" cy="933.9" r="4.6" stroke="#1b1b1b" stroke-width="2.3" fill="none" />
<circle cx="427.9" cy="925.7" r="4.6" stroke="#1b1b1b" stroke-width="2.3" fill="none" />
<circle cx="403.9" cy="925.7" r="4.6" stroke="#1b1b1b" stroke-width="2.3" fill="none" />
<circle cx="381.4" cy="933.9" r="4.6" stroke="#1b1b1b" stroke-width="2.3" fill="none" />
<circle cx="363.0" cy="949.3" r="4.6" stroke="#1b1b1b" stroke-width="2.3" fill="none" />
<circle cx="351.1" cy="970.1" r="4.6" stroke="#1b1b1b" stroke-width="2.3" fill="none" />
<circle cx="346.9" cy="993.7" r="4.6" stroke="#1b1b1b" stroke-width="2.3" fill="none" />
<circle cx="351.1" cy="1017.3" r="4.6" stroke="#1b1b1b" stroke-width="2.3" fill="none" />
<circle cx="363.0" cy="1038.1" r="4.6" stroke="#1b1b1b" stroke-width="2.3" fill="none" />
<circle cx="381.4" cy="1053.5" r="4.6" stroke="#1b1b1b" stroke-width="2.3" fill="none" />
<circle cx="403.9" cy="1061.7" r="4.6" stroke="#1b1b1b" stroke-width="2.3" fill="none" />
<circle cx="427.9" cy="1061.7" r="4.6" stroke="#1b1b1b" stroke-width="2.3" fill="none" />
<circle cx="450.4" cy="1053.5" r="4.6" stroke="#1b1b1b" stroke-width="2.3" fill="none" />
<circle cx="468.8" cy="1038.1" r="4.6" stroke="#1b1b1b" stroke-width="2.3" fill="none" />
<circle cx="480.7" cy="1017.3" r="4.6" stroke="#1b1b1b" stroke-width="2.3" fill="none" />
<circle cx="503.4" cy="993.7" r="5.5" stroke="#1b1b1b" stroke-width="1.2" fill="none" />
<circle cx="477.8" cy="931.8" r="5.5" stroke="#1b1b1b" stroke-width="1.2" fill="none" />
<circle cx="415.9" cy="906.2" r="5.5" stroke="#1b1b1b" stroke-width="1.2" fill="none" />
<circle cx="354.0" cy="931.8" r="5.5" stroke="#1b1b1b" stroke-width="1.2" fill="none" />
<circle cx="328.4" cy="993.7" r="5.5" stroke="#1b1b1b" stroke-width="1.2" fill="none" />
<circle cx="354.0" cy="1055.6" r="5.5" stroke="#1b1b1b" stroke-width="1.2" fill="none" />
<circle cx="415.9" cy="1081.2" r="5.5" stroke="#1b1b1b" stroke-width="1.2" fill="none" />
<circle cx="477.8" cy="1055.6" r="5.5" stroke="#1b1b1b" stroke-width="1.2" fill="none" />
<circle cx="386.6" cy="964.4" r="2.2" stroke="#1b1b1b" stroke-width="1.1" fill="none" />
<circle cx="386.6" cy="1023.0" r="2.2" stroke="#1b1b1b" stroke-width="1.1" fill="none" />
<circle cx="445.2" cy="964.4" r="2.2" stroke="#1b1b1b" stroke-width="1.1" fill="none" />
<circle cx="445.2" cy="1023.0" r="2.2" stroke="#1b1b1b" stroke-width="1.1" fill="none" />
<circle cx="294.2" cy="928.8" r="10.0" stroke="#1b1b1b" stroke-width="1.5" fill="none" />
<circle cx="335.2" cy="912.6" r="7.3" stroke="#1b1b1b" stroke-width="1.5" fill="none" />
<circle cx="350.8" cy="872.2" r="10.0" stroke="#1b1b1b" stroke-width="1.5" fill="none" />
<circle cx="331.4" cy="886.4" r="4.0" stroke="#1b1b1b" stroke-width="1.5" fill="none" />
<circle cx="357.0" cy="891.7" r="4.5" stroke="#1b1b1b" stroke-width="1.5" fill="none" />
<circle cx="305.7" cy="868.3" r="4.0" stroke="#1b1b1b" stroke-width="1.5" fill="none" />
<circle cx="321.1" cy="862.4" r="4.5" stroke="#1b1b1b" stroke-width="1.5" fill="none" />
<circle cx="537.6" cy="928.8" r="10.0" stroke="#1b1b1b" stroke-width="1.5" fill="none" />
<circle cx="496.6" cy="912.6" r="7.3" stroke="#1b1b1b" stroke-width="1.5" fill="none" />
<circle cx="481.0" cy="872.2" r="10.0" stroke="#1b1b1b" stroke-width="1.5" fill="none" />
<circle cx="474.8" cy="891.7" r="4.5" stroke="#1b1b1b" stroke-width="1.5" fill="none" />
<circle cx="511.9" cy="898.6" r="3.5" stroke="#1b1b1b" stroke-width="1.5" fill="none" />
<circle cx="510.9" cy="862.4" r="4.5" stroke="#1b1b1b" stroke-width="1.5" fill="none" />
<circle cx="294.2" cy="1058.6" r="10.0" stroke="#1b1b1b" stroke-width="1.5" fill="none" />
<circle cx="335.2" cy="1074.2" r="7.3" stroke="#1b1b1b" stroke-width="1.5" fill="none" />
<circle cx="350.8" cy="1115.2" r="10.0" stroke="#1b1b1b" stroke-width="1.5" fill="none" />
<circle cx="357.0" cy="1095.7" r="4.5" stroke="#1b1b1b" stroke-width="1.5" fill="none" />
<circle cx="320.9" cy="1088.8" r="3.5" stroke="#1b1b1b" stroke-width="1.5" fill="none" />
<circle cx="537.6" cy="1058.6" r="10.0" stroke="#1b1b1b" stroke-width="1.5" fill="none" />
<circle cx="496.6" cy="1074.2" r="7.3" stroke="#1b1b1b" stroke-width="1.5" fill="none" />
<circle cx="481.0" cy="1115.2" r="10.0" stroke="#1b1b1b" stroke-width="1.5" fill="none" />
<circle cx="474.8" cy="1095.7" r="4.5" stroke="#1b1b1b" stroke-width="1.5" fill="none" />
<circle cx="523.6" cy="883.0" r="12.5" stroke="#1b1b1b" stroke-width="1.4" fill="none" />
<circle cx="523.6" cy="883.0" r="9.5" stroke="#1b1b1b" stroke-width="1.1" fill="none" />
<polygon points="528.8,886.0 523.6,889.0 518.4,886.0 518.4,880.0 523.6,877.0 528.8,880.0" fill="none" stroke="#1b1b1b" stroke-width="1.1"/>
<circle cx="368.4" cy="862.5" r="5.3" stroke="#1b1b1b" stroke-width="1.8" fill="none" />
<circle cx="383.4" cy="862.5" r="5.3" stroke="#1b1b1b" stroke-width="1.8" fill="none" />
<circle cx="448.4" cy="862.5" r="5.3" stroke="#1b1b1b" stroke-width="1.8" fill="none" />
<circle cx="463.4" cy="862.5" r="5.3" stroke="#1b1b1b" stroke-width="1.8" fill="none" />
<circle cx="383.4" cy="1125.0" r="5.3" stroke="#1b1b1b" stroke-width="1.8" fill="none" />
<circle cx="448.4" cy="1125.0" r="5.3" stroke="#1b1b1b" stroke-width="1.8" fill="none" />
<circle cx="284.4" cy="961.0" r="5.3" stroke="#1b1b1b" stroke-width="1.8" fill="none" />
<circle cx="284.4" cy="1025.5" r="5.3" stroke="#1b1b1b" stroke-width="1.8" fill="none" />
<circle cx="547.4" cy="961.0" r="5.3" stroke="#1b1b1b" stroke-width="1.8" fill="none" />
<circle cx="547.4" cy="1025.5" r="5.3" stroke="#1b1b1b" stroke-width="1.8" fill="none" />
<circle cx="298.0" cy="993.7" r="5.3" stroke="#1b1b1b" stroke-width="1.8" fill="none" />
<circle cx="533.8" cy="993.7" r="5.3" stroke="#1b1b1b" stroke-width="1.8" fill="none" />
<line x1="258.0" y1="993.7" x2="265.0" y2="993.7" stroke="#1f4e7a" stroke-width="1.2" />
<line x1="276.0" y1="993.7" x2="369.5" y2="993.7" stroke="#1f4e7a" stroke-width="1.2" />
<line x1="382.0" y1="993.7" x2="450.0" y2="993.7" stroke="#1f4e7a" stroke-width="1.2" />
<line x1="461.7" y1="993.7" x2="555.5" y2="993.7" stroke="#1f4e7a" stroke-width="1.2" />
<line x1="567.0" y1="993.7" x2="574.0" y2="993.7" stroke="#1f4e7a" stroke-width="1.2" />
<line x1="415.9" y1="836.0" x2="415.9" y2="845.0" stroke="#1f4e7a" stroke-width="1.2" />
<line x1="415.9" y1="855.0" x2="415.9" y2="947.7" stroke="#1f4e7a" stroke-width="1.2" />
<line x1="415.9" y1="959.0" x2="415.9" y2="1028.0" stroke="#1f4e7a" stroke-width="1.2" />
<line x1="415.9" y1="1040.0" x2="415.9" y2="1131.0" stroke="#1f4e7a" stroke-width="1.2" />
<line x1="415.9" y1="1141.0" x2="415.9" y2="1151.0" stroke="#1f4e7a" stroke-width="1.2" />
<line x1="383.4" y1="836.0" x2="383.4" y2="889.0" stroke="#1f4e7a" stroke-width="1.1" />
<line x1="383.4" y1="1098.0" x2="383.4" y2="1151.0" stroke="#1f4e7a" stroke-width="1.1" />
<line x1="448.4" y1="836.0" x2="448.4" y2="889.0" stroke="#1f4e7a" stroke-width="1.1" />
<line x1="448.4" y1="1098.0" x2="448.4" y2="1151.0" stroke="#1f4e7a" stroke-width="1.1" />
<line x1="358.0" y1="862.5" x2="411.0" y2="862.5" stroke="#1f4e7a" stroke-width="1.1" />
<line x1="421.0" y1="862.5" x2="476.0" y2="862.5" stroke="#1f4e7a" stroke-width="1.1" />
<line x1="358.0" y1="1125.0" x2="411.0" y2="1125.0" stroke="#1f4e7a" stroke-width="1.1" />
<line x1="421.0" y1="1125.0" x2="476.0" y2="1125.0" stroke="#1f4e7a" stroke-width="1.1" />
<line x1="260.0" y1="961.0" x2="311.0" y2="961.0" stroke="#1f4e7a" stroke-width="1.1" />
<line x1="520.0" y1="961.0" x2="574.0" y2="961.0" stroke="#1f4e7a" stroke-width="1.1" />
<line x1="260.0" y1="1025.5" x2="311.0" y2="1025.5" stroke="#1f4e7a" stroke-width="1.1" />
<line x1="520.0" y1="1025.5" x2="574.0" y2="1025.5" stroke="#1f4e7a" stroke-width="1.1" />
<line x1="284.4" y1="935.0" x2="284.4" y2="1055.0" stroke="#1f4e7a" stroke-width="1.1" />
<line x1="547.4" y1="935.0" x2="547.4" y2="1055.0" stroke="#1f4e7a" stroke-width="1.1" />
<line x1="522.4" y1="708.5" x2="700.4" y2="708.5" stroke="#124a86" stroke-width="1.3" />
<line x1="557.5" y1="851.5" x2="642.5" y2="851.5" stroke="#124a86" stroke-width="1.3" />
<line x1="558.8" y1="1136.4" x2="700.4" y2="1136.4" stroke="#124a86" stroke-width="1.3" />
<line x1="700.4" y1="708.5" x2="700.4" y2="1136.4" stroke="#124a86" stroke-width="1.3" />
<line x1="642.5" y1="851.5" x2="642.5" y2="1136.4" stroke="#124a86" stroke-width="1.3" />
<path d="M700.4,709.0 L702.7,721.0 L698.1,721.0 Z" fill="#124a86"/>
<path d="M700.4,1136.0 L698.1,1124.0 L702.7,1124.0 Z" fill="#124a86"/>
<path d="M642.5,852.0 L644.8,864.0 L640.2,864.0 Z" fill="#124a86"/>
<path d="M642.5,1136.0 L640.2,1124.0 L644.8,1124.0 Z" fill="#124a86"/>
<text transform="translate(694.8,914.8) rotate(-90)" font-size="26" fill="#124a86" text-anchor="middle" textLength="39.7" lengthAdjust="spacingAndGlyphs">225</text>
<text transform="translate(635.7,992.8) rotate(-90)" font-size="26" fill="#124a86" text-anchor="middle" textLength="37.7" lengthAdjust="spacingAndGlyphs">150</text>
<line x1="273.3" y1="1137.6" x2="273.3" y2="1204.0" stroke="#124a86" stroke-width="1.3" />
<line x1="558.7" y1="1137.6" x2="558.7" y2="1204.0" stroke="#124a86" stroke-width="1.3" />
<line x1="273.3" y1="1203.4" x2="558.7" y2="1203.4" stroke="#124a86" stroke-width="1.3" />
<path d="M274.0,1203.4 L286.0,1201.1 L286.0,1205.7 Z" fill="#124a86"/>
<path d="M558.0,1203.4 L546.0,1205.7 L546.0,1201.1 Z" fill="#124a86"/>
<text x="397.6" y="1198.8" font-size="25" fill="#124a86" text-anchor="start" font-weight="normal" textLength="37.1" lengthAdjust="spacingAndGlyphs" >150</text>
<rect x="940.5" y="711.0" width="23.0" height="76.6" stroke="#1b1b1b" stroke-width="1.3" fill="none" />
<rect x="963.5" y="713.8" width="8.8" height="71.9" stroke="#1b1b1b" stroke-width="1.3" fill="none" />
<rect x="972.3" y="709.0" width="9.7" height="80.6" stroke="#1b1b1b" stroke-width="1.6" fill="none" />
<line x1="972.3" y1="737.8" x2="980.0" y2="737.8" stroke="#1b1b1b" stroke-width="1.3" />
<line x1="972.3" y1="761.3" x2="980.0" y2="761.3" stroke="#1b1b1b" stroke-width="1.3" />
<rect x="982.0" y="714.4" width="48.9" height="68.9" stroke="#1b1b1b" stroke-width="1.3" fill="none" />
<rect x="1000.2" y="727.0" width="28.1" height="44.6" stroke="#1b1b1b" stroke-width="1.3" fill="none" />
<rect x="1030.9" y="714.0" width="6.8" height="73.6" stroke="#1b1b1b" stroke-width="1.3" fill="none" />
<rect x="1037.7" y="711.0" width="4.9" height="77.6" stroke="#1b1b1b" stroke-width="1.3" fill="none" />
<rect x="1028.0" y="726.0" width="6.0" height="8.0" stroke="#1b1b1b" stroke-width="1" fill="none" />
<rect x="1028.0" y="763.0" width="6.0" height="10.0" stroke="#1b1b1b" stroke-width="1" fill="none" />
<path d="M1003.5,792 H1040 M1012,786 h14 v5 h-14 z" stroke="#1b1b1b" stroke-width="1.3" fill="none" />
<rect x="1042.6" y="708.5" width="163.9" height="85.9" stroke="#1b1b1b" stroke-width="1.3" fill="none" />
<line x1="1048.5" y1="715.4" x2="1201.4" y2="715.4" stroke="#1b1b1b" stroke-width="1.3" />
<line x1="1048.5" y1="708.5" x2="1048.5" y2="715.4" stroke="#1b1b1b" stroke-width="1.3" />
<line x1="1201.4" y1="708.5" x2="1201.4" y2="794.4" stroke="#1b1b1b" stroke-width="1.3" />
<circle cx="1137.6" cy="746.6" r="16.6" stroke="#1b1b1b" stroke-width="1.5" fill="none" />
<circle cx="1137.6" cy="746.6" r="13.5" stroke="#1b1b1b" stroke-width="1.3" fill="none" />
<path d="M977.2,851 V794.5 H1268.4 L1296.7,807.1 V851" stroke="#1b1b1b" stroke-width="1.3" fill="none" />
<line x1="977.2" y1="797.4" x2="1268.4" y2="797.4" stroke="#1b1b1b" stroke-width="1.3" />
<line x1="1267.4" y1="795.0" x2="1267.4" y2="851.0" stroke="#1b1b1b" stroke-width="1.3" />
<circle cx="1284.0" cy="820.4" r="6.5" stroke="#1b1b1b" stroke-width="2" fill="none" />
<circle cx="1142.5" cy="806.2" r="5.0" stroke="#1b1b1b" stroke-width="1.3" fill="none" />
<circle cx="1124.5" cy="820.4" r="5.0" stroke="#1b1b1b" stroke-width="1.3" fill="none" />
<circle cx="1113.8" cy="837.4" r="5.0" stroke="#1b1b1b" stroke-width="1.3" fill="none" />
<rect x="937.2" y="796.4" width="3.8" height="28.3" stroke="#1b1b1b" stroke-width="1.4" fill="none" />
<rect x="941.0" y="796.4" width="10.8" height="28.3" stroke="#1b1b1b" stroke-width="1.3" fill="none" />
<rect x="951.8" y="794.5" width="11.7" height="30.2" stroke="#1b1b1b" stroke-width="1.3" fill="none" />
<rect x="963.5" y="794.5" width="12.7" height="30.2" stroke="#1b1b1b" stroke-width="1.3" fill="none" />
<line x1="963.5" y1="804.0" x2="976.2" y2="804.0" stroke="#1b1b1b" stroke-width="1.3" />
<line x1="963.5" y1="815.0" x2="976.2" y2="815.0" stroke="#1b1b1b" stroke-width="1.3" />
<rect x="940.5" y="826.7" width="4.5" height="21.3" stroke="#1b1b1b" stroke-width="1.3" fill="none" />
<rect x="945.0" y="826.7" width="5.0" height="21.3" stroke="#1b1b1b" stroke-width="1.3" fill="none" />
<rect x="950.0" y="825.7" width="18.4" height="24.3" stroke="#1b1b1b" stroke-width="1.3" fill="none" />
<rect x="968.4" y="825.7" width="8.8" height="25.3" stroke="#1b1b1b" stroke-width="1.3" fill="none" />
<line x1="950.0" y1="836.0" x2="968.4" y2="836.0" stroke="#1b1b1b" stroke-width="1.3" />
<line x1="950.0" y1="845.0" x2="968.4" y2="845.0" stroke="#1b1b1b" stroke-width="1.3" />
<path d="M937,800 h-3 v14 h3" stroke="#1b1b1b" stroke-width="1.1" fill="none" />
<path d="M794.4,852.3 H1318.6 V1135.4 H794.4 Z" stroke="#1b1b1b" stroke-width="1.4" fill="none" />
<line x1="804.6" y1="852.3" x2="804.6" y2="1134.4" stroke="#1b1b1b" stroke-width="1.3" />
<path d="M811.5,852.3 L821.6,885 V1102.4 L811.5,1134.4" stroke="#1b1b1b" stroke-width="1.3" fill="none" />
<line x1="834.4" y1="852.3" x2="834.4" y2="1134.4" stroke="#1b1b1b" stroke-width="1.3" />
<path d="M821.6,885 H924.3 Q945.8,885 945.8,865.5 V852.3" stroke="#1b1b1b" stroke-width="1.3" fill="none" />
<path d="M821.6,1102.7 H924.3 Q945.8,1102.7 945.8,1121.9 V1134.4" stroke="#1b1b1b" stroke-width="1.3" fill="none" />
<line x1="945.8" y1="864.8" x2="976.6" y2="864.8" stroke="#1b1b1b" stroke-width="1.3" />
<line x1="945.8" y1="1122.6" x2="976.6" y2="1122.6" stroke="#1b1b1b" stroke-width="1.3" />
<line x1="960.5" y1="852.3" x2="960.5" y2="1134.4" stroke="#1b1b1b" stroke-width="1.3" />
<line x1="976.6" y1="852.3" x2="976.6" y2="1136.2" stroke="#1b1b1b" stroke-width="1.3" />
<ellipse cx="968.6" cy="859.5" rx="4" ry="2.8" fill="none" stroke="#1b1b1b" stroke-width="1.4"/>
<circle cx="968.6" cy="1082.7" r="3.5" stroke="#1b1b1b" stroke-width="1.4" fill="none" />
<ellipse cx="800.8" cy="864" rx="1.8" ry="7" fill="none" stroke="#1b1b1b" stroke-width="1.3"/>
<ellipse cx="806.8" cy="864.8" rx="2.6" ry="7" fill="none" stroke="#1b1b1b" stroke-width="1.3"/>
<ellipse cx="815.6" cy="897" rx="2.8" ry="8.5" fill="none" stroke="#1b1b1b" stroke-width="1.3"/>
<ellipse cx="817.6" cy="934" rx="2.5" ry="8.5" fill="none" stroke="#1b1b1b" stroke-width="1.3"/>
<ellipse cx="801.5" cy="993" rx="2" ry="9" fill="none" stroke="#1b1b1b" stroke-width="1.3"/>
<ellipse cx="817.6" cy="1050.7" rx="2.5" ry="8.5" fill="none" stroke="#1b1b1b" stroke-width="1.3"/>
<ellipse cx="815" cy="1102" rx="2.8" ry="8.5" fill="none" stroke="#1b1b1b" stroke-width="1.3"/>
<ellipse cx="806.5" cy="1121" rx="2.6" ry="8" fill="none" stroke="#1b1b1b" stroke-width="1.3"/>
<ellipse cx="800.8" cy="1122" rx="1.8" ry="7" fill="none" stroke="#1b1b1b" stroke-width="1.3"/>
<ellipse cx="825.3" cy="867" rx="4" ry="2.8" fill="none" stroke="#1b1b1b" stroke-width="1.5"/>
<rect x="904.2" y="943.4" width="44.8" height="100.0" stroke="#1b1b1b" stroke-width="2.4" fill="none" rx="22.4" ry="22.4"/>
<circle cx="926.3" cy="954.0" r="10.0" stroke="#1b1b1b" stroke-width="1.4" fill="none" />
<circle cx="926.3" cy="1033.3" r="10.0" stroke="#1b1b1b" stroke-width="1.4" fill="none" />
<circle cx="948.5" cy="944.0" r="3.8" stroke="#1b1b1b" stroke-width="1.4" fill="none" />
<circle cx="948.5" cy="1043.4" r="3.8" stroke="#1b1b1b" stroke-width="1.4" fill="none" />
<circle cx="894.0" cy="1076.5" r="11.0" stroke="#1b1b1b" stroke-width="1.4" fill="none" />
<circle cx="894.0" cy="1076.5" r="8.5" stroke="#1b1b1b" stroke-width="1.1" fill="none" />
<line x1="886.0" y1="1074.5" x2="904.0" y2="1074.5" stroke="#1b1b1b" stroke-width="1.1" />
<line x1="886.0" y1="1078.5" x2="904.0" y2="1078.5" stroke="#1b1b1b" stroke-width="1.1" />
<line x1="976.6" y1="870.6" x2="1301.6" y2="870.6" stroke="#1b1b1b" stroke-width="1.3" />
<line x1="976.6" y1="872.6" x2="1301.6" y2="872.6" stroke="#1b1b1b" stroke-width="1.3" />
<line x1="1301.5" y1="852.3" x2="1301.5" y2="1136.0" stroke="#1b1b1b" stroke-width="1.3" />
<line x1="1301.5" y1="943.5" x2="1318.6" y2="943.5" stroke="#1b1b1b" stroke-width="1.3" />
<line x1="1301.5" y1="1043.4" x2="1318.6" y2="1043.4" stroke="#1b1b1b" stroke-width="1.3" />
<circle cx="1307.0" cy="874.8" r="1.6" stroke="#1b1b1b" stroke-width="1" fill="#1b1b1b" />
<rect x="1067.3" y="898.4" width="156.4" height="137.3" stroke="#1b1b1b" stroke-width="1.4" fill="none" rx="2"/>
<rect x="1101.8" y="923.7" width="11.0" height="12.1" stroke="#1b1b1b" stroke-width="1.3" fill="none" rx="1.5"/>
<rect x="1101.8" y="945.7" width="11.0" height="13.1" stroke="#1b1b1b" stroke-width="1.3" fill="none" rx="1.5"/>
<circle cx="989.3" cy="993.3" r="3.8" stroke="#1b1b1b" stroke-width="1.6" fill="none" />
<path d="M1055.7,1080.3 V1063.75 A15.350000000000023,15.350000000000023 0 0 1 1086.4,1063.75 V1080.3" stroke="#1b1b1b" stroke-width="1.4" fill="none" />
<rect x="1044.7" y="1080.3" width="52.7" height="39.3" stroke="#1b1b1b" stroke-width="1.4" fill="none" rx="7"/>
<path d="M1246.3,1080.3 V1063.4500000000003 A15.050000000000068,15.050000000000068 0 0 1 1276.4,1063.4500000000003 V1080.3" stroke="#1b1b1b" stroke-width="1.4" fill="none" />
<rect x="1234.7" y="1080.3" width="53.8" height="39.3" stroke="#1b1b1b" stroke-width="1.4" fill="none" rx="7"/>
<rect x="1109.5" y="1132.3" width="19.7" height="3.3" stroke="#1b1b1b" stroke-width="1.1" fill="none" />
<rect x="1147.5" y="1132.3" width="37.3" height="3.3" stroke="#1b1b1b" stroke-width="1.1" fill="none" />
<rect x="1204.6" y="1132.3" width="19.1" height="3.3" stroke="#1b1b1b" stroke-width="1.1" fill="none" />
<rect x="1319.3" y="898.6" width="58.2" height="190.4" stroke="#1b1b1b" stroke-width="1.3" fill="none" />
<line x1="1322.2" y1="899.0" x2="1322.2" y2="1089.0" stroke="#1b1b1b" stroke-width="1.3" />
<line x1="1378.8" y1="899.0" x2="1378.8" y2="1089.0" stroke="#1b1b1b" stroke-width="2.2" />
<line x1="1385.7" y1="899.0" x2="1385.7" y2="1089.0" stroke="#1b1b1b" stroke-width="1.3" />
<line x1="1392.0" y1="899.0" x2="1392.0" y2="1089.0" stroke="#1b1b1b" stroke-width="2.2" />
<line x1="1377.5" y1="898.8" x2="1392.0" y2="898.8" stroke="#1b1b1b" stroke-width="1.3" />
<line x1="1377.5" y1="1089.0" x2="1392.0" y2="1089.0" stroke="#1b1b1b" stroke-width="1.3" />
<rect x="1392.5" y="901.5" width="6.2" height="9.8" stroke="#1b1b1b" stroke-width="1.1" fill="none" />
<rect x="1392.5" y="927.0" width="6.2" height="10.7" stroke="#1b1b1b" stroke-width="1.1" fill="none" />
<rect x="1392.5" y="988.4" width="6.2" height="10.8" stroke="#1b1b1b" stroke-width="1.1" fill="none" />
<rect x="1392.5" y="1051.0" width="6.2" height="10.7" stroke="#1b1b1b" stroke-width="1.1" fill="none" />
<rect x="1392.5" y="1076.3" width="6.2" height="10.7" stroke="#1b1b1b" stroke-width="1.1" fill="none" />
<rect x="1393.5" y="912.3" width="29.3" height="162.0" stroke="#1b1b1b" stroke-width="1.5" fill="none" />
<line x1="1422.8" y1="928.0" x2="1422.8" y2="1058.7" stroke="#1b1b1b" stroke-width="2.6" />
<path d="M1423.3,974.8 H1429 Q1431.5,977 1431.5,980 V1008 Q1431.5,1011 1429,1012.8 H1423.3" stroke="#1b1b1b" stroke-width="1.2" fill="none" />
<path d="M1414,1030 l4,-3 l3,3 l-3,3 z" stroke="#1b1b1b" stroke-width="1" fill="none" />
<line x1="788.0" y1="993.3" x2="929.0" y2="993.3" stroke="#1f4e7a" stroke-width="1.2" />
<line x1="943.0" y1="993.3" x2="957.0" y2="993.3" stroke="#1f4e7a" stroke-width="1.2" />
<line x1="970.0" y1="993.3" x2="1111.7" y2="993.3" stroke="#1f4e7a" stroke-width="1.2" />
<line x1="1124.8" y1="993.3" x2="1139.0" y2="993.3" stroke="#1f4e7a" stroke-width="1.2" />
<line x1="1151.0" y1="993.3" x2="1294.0" y2="993.3" stroke="#1f4e7a" stroke-width="1.2" />
<line x1="1309.0" y1="993.3" x2="1321.0" y2="993.3" stroke="#1f4e7a" stroke-width="1.2" />
<line x1="1334.0" y1="993.3" x2="1475.5" y2="993.3" stroke="#1f4e7a" stroke-width="1.2" />
<line x1="1318.7" y1="789.3" x2="1318.7" y2="846.0" stroke="#124a86" stroke-width="1.3" />
<line x1="1423.3" y1="789.3" x2="1423.3" y2="1181.0" stroke="#124a86" stroke-width="1.3" />
<line x1="1318.7" y1="792.2" x2="1423.3" y2="792.2" stroke="#124a86" stroke-width="1.3" />
<path d="M1319.0,792.2 L1331.0,789.9 L1331.0,794.5 Z" fill="#124a86"/>
<path d="M1423.0,792.2 L1411.0,794.5 L1411.0,789.9 Z" fill="#124a86"/>
<text x="1357.4" y="786.4" font-size="25" fill="#124a86" text-anchor="start" font-weight="normal" textLength="24.4" lengthAdjust="spacingAndGlyphs" >55</text>
<line x1="1423.3" y1="898.6" x2="1579.0" y2="898.6" stroke="#124a86" stroke-width="1.3" />
<line x1="1423.3" y1="1089.0" x2="1579.0" y2="1089.0" stroke="#124a86" stroke-width="1.3" />
<line x1="1576.0" y1="898.6" x2="1576.0" y2="1089.0" stroke="#124a86" stroke-width="1.3" />
<path d="M1576.0,899.0 L1578.3,911.0 L1573.7,911.0 Z" fill="#124a86"/>
<path d="M1576.0,1089.0 L1573.7,1077.0 L1578.3,1077.0 Z" fill="#124a86"/>
<text transform="translate(1572,988) rotate(-90)" font-size="26" fill="#124a86" text-anchor="middle" textLength="100.5" lengthAdjust="spacingAndGlyphs">Ø 100 h7</text>
<line x1="794.4" y1="1141.3" x2="794.4" y2="1181.0" stroke="#124a86" stroke-width="1.3" />
<line x1="794.4" y1="1180.7" x2="1423.3" y2="1180.7" stroke="#124a86" stroke-width="1.3" />
<path d="M795.0,1180.7 L807.0,1178.4 L807.0,1183.0 Z" fill="#124a86"/>
<path d="M1423.0,1180.7 L1411.0,1183.0 L1411.0,1178.4 Z" fill="#124a86"/>
<text x="1018.8" y="1176.3" font-size="25" fill="#124a86" text-anchor="start" font-weight="normal" textLength="63.2" lengthAdjust="spacingAndGlyphs" >330,5</text>
</svg></body></html>
